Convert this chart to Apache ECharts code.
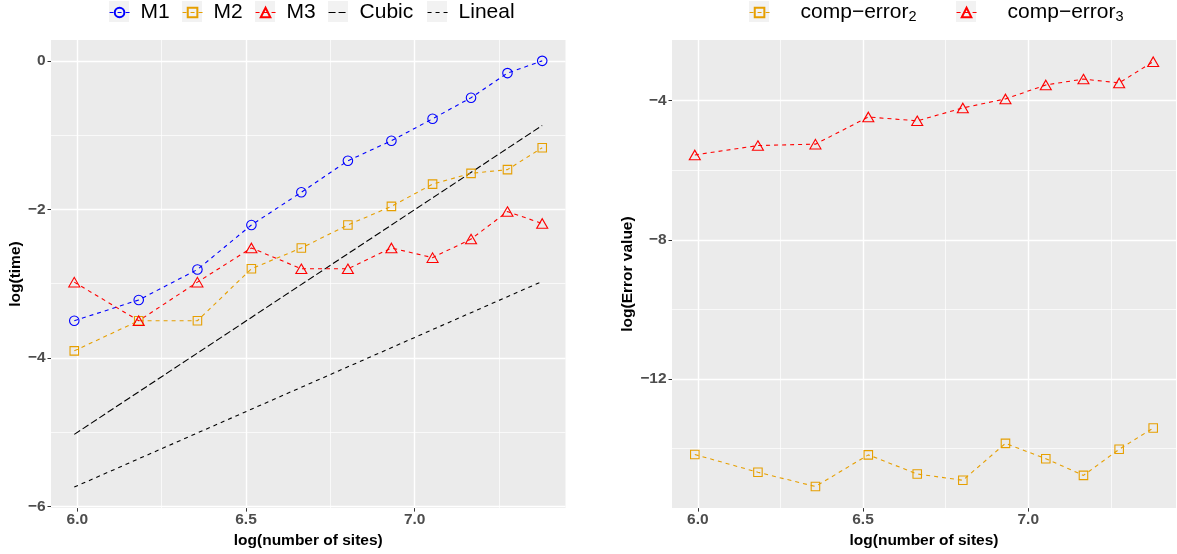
<!DOCTYPE html>
<html><head><meta charset="utf-8">
<script src="https://cdn.jsdelivr.net/npm/echarts@6/dist/echarts.min.js"></script>
<style>html,body{margin:0;padding:0;background:#fff}#c{width:1177px;height:554px}</style>
</head><body><div id="c"></div>
<script>
// ---- data ----
const sites = [5.991, 6.182, 6.356, 6.516, 6.664, 6.802, 6.931, 7.053, 7.167, 7.275, 7.378];
const m1 = [-3.50, -3.22, -2.81, -2.21, -1.77, -1.345, -1.076, -0.78, -0.496, -0.165, 0.0];
const m2 = [-3.905, -3.50, -3.50, -2.80, -2.52, -2.21, -1.96, -1.66, -1.515, -1.465, -1.17];
const m3 = [-2.98, -3.50, -2.98, -2.52, -2.80, -2.80, -2.52, -2.65, -2.40, -2.03, -2.19];
const refSites = [5.991, 7.378];
const cubic = [-5.03, -0.87];
const lineal = [-5.74, -2.97];
const err2 = [-14.17, -14.68, -15.09, -14.18, -14.73, -14.91, -13.85, -14.29, -14.77, -14.02, -13.41];
const err3 = [-5.56, -5.29, -5.25, -4.47, -4.58, -4.21, -3.95, -3.55, -3.38, -3.49, -2.88];

const xTicks = [6.0, 6.5, 7.0];
const xTickLabels = ['6.0', '6.5', '7.0'];
const xMinor = [6.25, 6.75, 7.25];
const timeTicks = [-6, -4, -2, 0];
const timeTickLabels = ['\u22126', '\u22124', '\u22122', '0'];
const timeMinor = [-5, -3, -1];
const errTicks = [-12, -8, -4];
const errTickLabels = ['\u221212', '\u22128', '\u22124'];
const errMinor = [-14, -10, -6];

const leftNames = ['M1', 'M2', 'M3', 'Cubic', 'Lineal'];
const rightNames = ['comp\u2212error2', 'comp\u2212error3'];
const rightBase = 'comp\u2212error';
const rightSubs = ['2', '3'];

// ---- styling ----
const FONT = '"Liberation Sans", Arial, Helvetica, sans-serif';
const PANEL = '#EBEBEB';
const X_MIN = 5.922, X_MAX = 7.447;
const T_MIN = -6.023, T_MAX = 0.281;
const E_MIN = -15.71, E_MAX = -2.257;

const pair = (xs, ys) => xs.map((x, i) => [x, ys[i]]);
const lab = (ticks, labels) => v => {
  const i = ticks.findIndex(t => Math.abs(t - v) < 1e-9);
  return i >= 0 ? labels[i] : '';
};

function majorAxis(grid, min, max, ticks, labels, name, nameGap, isX, margin) {
  return {
    type: 'value', gridIndex: grid, min, max, position: isX ? 'bottom' : 'left',
    name, nameLocation: 'middle', nameGap,
    nameTextStyle: { fontFamily: FONT, fontWeight: 'bold', fontSize: 15.5, color: '#000' },
    axisLine: { show: false, onZero: false },
    axisTick: { show: true, length: 3.5, lineStyle: { color: '#333', width: 1 }, customValues: ticks },
    axisLabel: { show: true, customValues: ticks, formatter: lab(ticks, labels), margin,
      fontFamily: FONT, fontWeight: 'bold', fontSize: 15.5, color: '#4D4D4D' },
    splitLine: { show: true, lineStyle: { color: '#FFFFFF', width: 1.4 } },
    silent: true
  };
}
function minorAxis(grid, min, max, ticks, isX) {
  return {
    type: 'value', gridIndex: grid, min, max, position: isX ? 'top' : 'right',
    axisLine: { show: false, onZero: false },
    axisTick: { show: false, customValues: ticks },
    axisLabel: { show: false, customValues: ticks },
    splitLine: { show: true, lineStyle: { color: '#FFFFFF', width: 0.7 } },
    silent: true
  };
}

function pointSeries(name, xi, yi, data, color, symbol, size) {
  return {
    name, type: 'line', xAxisIndex: xi, yAxisIndex: yi, data,
    symbol, symbolSize: size, showSymbol: true,
    itemStyle: { color: 'rgba(0,0,0,0)', borderColor: color, borderWidth: 1.1 },
    lineStyle: { color, width: 1.1, type: [4, 4] },
    emphasis: { disabled: true }, silent: true, z: 3
  };
}
function refSeries(name, data, dash) {
  return {
    name, type: 'line', xAxisIndex: 0, yAxisIndex: 0, data, symbol: 'none',
    itemStyle: { color: '#000' },
    lineStyle: { color: '#000', width: 1.1, type: dash },
    emphasis: { disabled: true }, silent: true, z: 2
  };
}

const leftKeyX = [109, 182, 255, 328, 427];
const rightKeyX = [749, 956];
const LEG_TOP = 2;
const LEG_FONT = 21;
const noSymbol = { Cubic: true, Lineal: true };

const legends = [];
leftNames.forEach((n, i) => legends.push({
  data: [noSymbol[n] ? { name: n, itemStyle: { color: 'rgba(0,0,0,0)', borderWidth: 0, borderColor: 'rgba(0,0,0,0)' } } : n],
  left: leftKeyX[i], top: LEG_TOP, padding: 0, itemWidth: 20, itemHeight: 12, itemGap: 0,
  selectedMode: false, lineStyle: { width: 1.1 },
  textStyle: { fontFamily: FONT, fontSize: LEG_FONT, color: '#000', padding: [0, 0, 0, 6] }
}));
rightNames.forEach((n, i) => legends.push({
  data: [n], left: rightKeyX[i], top: LEG_TOP, padding: 0, itemWidth: 20, itemHeight: 12, itemGap: 0,
  selectedMode: false, lineStyle: { width: 1.1 },
  formatter: () => '{b|' + rightBase + '}{s|' + rightSubs[i] + '}',
  textStyle: { fontFamily: FONT, fontSize: LEG_FONT, color: '#000', padding: [0, 0, 0, 26],
    rich: {
      b: { fontFamily: FONT, fontSize: LEG_FONT, color: '#000' },
      s: { fontFamily: FONT, fontSize: 14.5, color: '#000', verticalAlign: 'bottom', padding: [8, 0, 0, 0] }
    } }
}));

const keyRects = leftKeyX.concat(rightKeyX).map(x => ({
  type: 'rect', left: x, top: 1, z: -1, silent: true,
  shape: { width: 20, height: 21 }, style: { fill: '#F2F2F2' }
}));

const option = {
  animation: false,
  backgroundColor: '#FFFFFF',
  graphic: keyRects,
  legend: legends,
  grid: [
    { left: 51, top: 40, width: 514.5, height: 470.7, show: true, backgroundColor: PANEL, borderWidth: 0 },
    { left: 672, top: 40, width: 504, height: 470.7, show: true, backgroundColor: PANEL, borderWidth: 0 }
  ],
  xAxis: [
    majorAxis(0, X_MIN, X_MAX, xTicks, xTickLabels, 'log(number of sites)', 21, true, 4),
    minorAxis(0, X_MIN, X_MAX, xMinor, true),
    majorAxis(1, X_MIN, X_MAX, xTicks, xTickLabels, 'log(number of sites)', 21, true, 4),
    minorAxis(1, X_MIN, X_MAX, xMinor, true)
  ],
  yAxis: [
    majorAxis(0, T_MIN, T_MAX, timeTicks, timeTickLabels, 'log(time)', 26, false, 5.5),
    minorAxis(0, T_MIN, T_MAX, timeMinor, false),
    majorAxis(1, E_MIN, E_MAX, errTicks, errTickLabels, 'log(Error value)', 36, false, 5.5),
    minorAxis(1, E_MIN, E_MAX, errMinor, false)
  ],
  series: [
    pointSeries('M1', 0, 0, pair(sites, m1), '#0000FF', 'circle', 9.5),
    pointSeries('M2', 0, 0, pair(sites, m2), '#E69F00', 'rect', 8.5),
    pointSeries('M3', 0, 0, pair(sites, m3), '#FF0000', 'triangle', [11, 9.5]),
    refSeries('Cubic', pair(refSites, cubic), [7, 3]),
    refSeries('Lineal', pair(refSites, lineal), [4, 4]),
    pointSeries(rightNames[0], 2, 2, pair(sites, err2), '#E69F00', 'rect', 8.5),
    pointSeries(rightNames[1], 2, 2, pair(sites, err3), '#FF0000', 'triangle', [11, 9.5])
  ]
};

const chart = echarts.init(document.getElementById('c'), null, { renderer: 'canvas' });
chart.setOption(option);
</script>
</body></html>
